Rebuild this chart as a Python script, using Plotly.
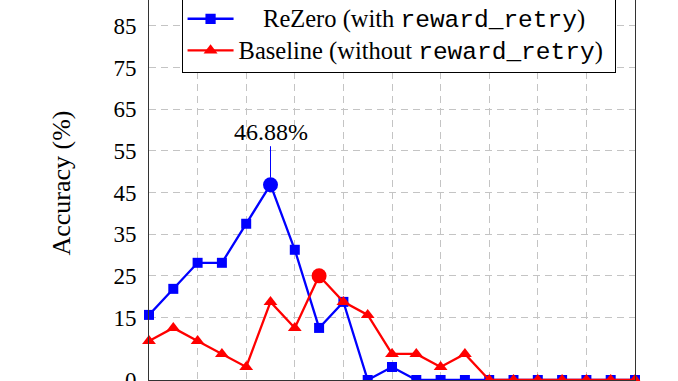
import plotly.graph_objects as go

# ---- data ----
steps = list(range(21))
rezero = [15.625, 21.875, 28.125, 28.125, 37.5, 46.875, 31.25, 12.5, 18.75, 0, 3.125,
          0, 0, 0, 0, 0, 0, 0, 0, 0, 0]
baseline = [9.375, 12.5, 9.375, 6.25, 3.125, 18.75, 12.5, 25.0, 18.75, 15.625, 6.25,
            6.25, 3.125, 6.25, 0, 0, 0, 0, 0, 0, 0]
ytick_vals = [0, 15, 25, 35, 45, 55, 65, 75, 85, 95]
xgrid_vals = [2, 4, 6, 8, 10, 12, 14, 16, 18]
MONO_SPAN = '<span style="font-family:Liberation Mono, monospace">reward_retry</span>'
NB = "\u00a0"
name_rezero = ('<span style="font-size:24.5px">' + NB * 4 + "ReZero (with "
               + MONO_SPAN + ")</span>")
name_base = ('<span style="font-size:24.5px">Baseline (without '
             + MONO_SPAN + ")" + NB + "</span>")

SERIF = "Liberation Serif, Times New Roman, serif"
BLUE = "#0000ff"
RED = "#ff0000"


def peak_index(vals):
    return max(range(len(vals)), key=lambda i: vals[i])


pb = peak_index(rezero)
pr = peak_index(baseline)
sym_b = ["circle" if i == pb else "square" for i in range(len(rezero))]
size_b = [15 if i == pb else 10 for i in range(len(rezero))]
sym_r = ["circle" if i == pr else "triangle-up" for i in range(len(baseline))]
size_r = [15 if i == pr else 12 for i in range(len(baseline))]

fig = go.Figure()
fig.add_trace(go.Scatter(
    x=steps, y=rezero, mode="lines+markers", name=name_rezero,
    line=dict(color=BLUE, width=2.3),
    marker=dict(symbol=sym_b, size=size_b, color=BLUE, opacity=1, line=dict(width=0)),
    cliponaxis=False,
))
fig.add_trace(go.Scatter(
    x=steps, y=baseline, mode="lines+markers", name=name_base,
    line=dict(color=RED, width=2.3),
    marker=dict(symbol=sym_r, size=size_r, color=RED, opacity=1, line=dict(width=0)),
    cliponaxis=False,
))

fig.add_annotation(
    x=steps[pb], y=rezero[pb], text=f"{rezero[pb]:.2f}%",
    showarrow=True, arrowhead=0, arrowwidth=1, arrowcolor=BLUE,
    ax=0, ay=-53, standoff=7,
    font=dict(family=SERIF, size=24, color="black"),
)
fig.add_annotation(
    x=-0.179, y=0.517, xref="paper", yref="paper", text="Accuracy (%)",
    textangle=-90, showarrow=False, xanchor="center", yanchor="middle",
    font=dict(family=SERIF, size=26, color="black"),
)

grid = dict(showgrid=True, gridcolor="#c4c4c4", gridwidth=1, griddash="7px,5px",
            zeroline=False, showline=True, linecolor="#333333", linewidth=1,
            mirror=True, ticks="")

fig.update_xaxes(range=[0, 20], tickvals=xgrid_vals, showticklabels=False, **grid)
fig.update_yaxes(range=[0, 91.2], tickvals=ytick_vals, ticklabelstandoff=7,
                 ticklabeloverflow="allow",
                 tickfont=dict(family=SERIF, size=23, color="black"), **grid)

fig.update_layout(
    width=678, height=381,
    margin=dict(l=149, r=43, t=0, b=1, autoexpand=False),
    plot_bgcolor="white", paper_bgcolor="white",
    font=dict(family=SERIF, color="black"),
    showlegend=True,
    legend=dict(x=0.067, y=1.008, xanchor="left", yanchor="top",
                bgcolor="white", bordercolor="black", borderwidth=1,
                font=dict(family=SERIF, size=22, color="black"),
                itemwidth=46),
)

fig.write_html("out.html")
